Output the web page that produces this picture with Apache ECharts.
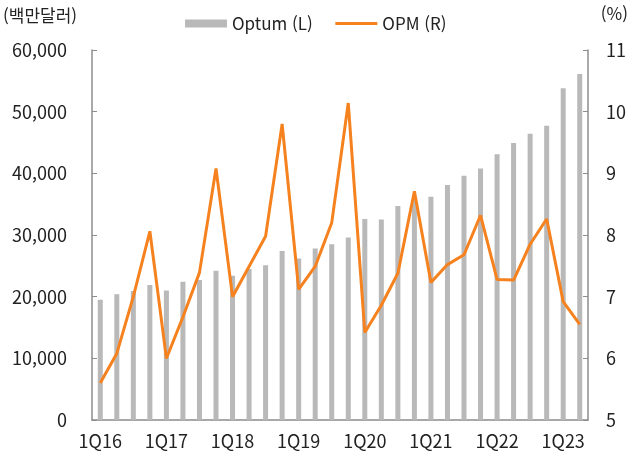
<!DOCTYPE html>
<html lang="ko">
<head>
  <meta charset="UTF-8">
  <title>Optum 매출 및 OPM</title>
  <script src="https://cdn.jsdelivr.net/npm/echarts/dist/echarts.min.js"></script>
  <style>
    body { margin: 0; background: #fff; }
    #chart { width: 632px; height: 456px; }
  </style>
</head>
<body>
<div id="chart"></div>
<script>
  // 분기 (1Q16 ~ 2Q23)
  var quarters = [];
  var years = ['16', '17', '18', '19', '20', '21', '22', '23'];
  years.forEach(function (y) {
    ['1Q', '2Q', '3Q', '4Q'].forEach(function (q) { quarters.push(q + y); });
  });
  quarters = quarters.slice(0, 30);

  // Optum 매출 (백만달러)
  var optumRevenue = [
    19500, 20400, 20900, 21900, 21000, 22400, 22700, 24200,
    23400, 24500, 25100, 27400, 26200, 27800, 28500, 29600,
    32600, 32500, 34700, 35800, 36200, 38100, 39600, 40800,
    43100, 44900, 46400, 47700, 53800, 56100
  ];
  // OPM (%)
  var opm = [
    5.60, 6.08, 7.00, 8.06, 6.00, 6.67, 7.39, 9.08,
    7.00, 7.49, 7.98, 9.80, 7.12, 7.49, 8.20, 10.14,
    6.42, 6.86, 7.38, 8.71, 7.23, 7.52, 7.68, 8.32,
    7.28, 7.27, 7.85, 8.26, 6.92, 6.55
  ];

  var leftTicks = { min: 0, max: 60000, interval: 10000 };
  var rightTicks = { min: 5, max: 11, interval: 1 };

  var font = '"Noto Sans CJK KR", "Noto Sans", sans-serif';
  var axisGray = '#8c8c8c';

  var chart = echarts.init(document.getElementById('chart'));

  var option = {
    animation: false,
    textStyle: { fontFamily: font },
    grid: { left: 92, right: 44, top: 50, bottom: 36 },
    legend: {
      top: 10,
      left: 180,
      itemGap: 22,
      itemWidth: 42,
      itemHeight: 8,
      textStyle: { fontSize: 17, color: '#222', fontFamily: font },
      data: [
        { name: 'Optum (L)', icon: 'rect' },
        { name: 'OPM (R)', itemStyle: { opacity: 0 }, lineStyle: { width: 3 } }
      ]
    },
    graphic: [
      { type: 'text', left: 3, top: 7, style: { text: '(백만달러)', fontSize: 17, fill: '#222', fontFamily: font } },
      { type: 'text', right: 4, top: 5, style: { text: '(%)', fontSize: 17, fill: '#222', fontFamily: font } }
    ],
    xAxis: {
      type: 'category',
      data: quarters,
      boundaryGap: true,
      axisLine: { lineStyle: { color: axisGray, width: 1.5 } },
      axisTick: { inside: true, length: 4, interval: 3, lineStyle: { color: axisGray } },
      axisLabel: { interval: 3, fontSize: 18, color: '#222', margin: 12, fontFamily: font }
    },
    yAxis: [
      {
        type: 'value',
        min: leftTicks.min,
        max: leftTicks.max,
        interval: leftTicks.interval,
        splitLine: { show: false },
        axisLine: { show: true, lineStyle: { color: axisGray, width: 1.5 } },
        axisTick: { show: true, inside: true, length: 5, lineStyle: { color: axisGray } },
        axisLabel: {
          fontSize: 18, color: '#222', margin: 25, fontFamily: font,
          formatter: function (v) { return v.toLocaleString('en-US'); }
        }
      },
      {
        type: 'value',
        min: rightTicks.min,
        max: rightTicks.max,
        interval: rightTicks.interval,
        position: 'right',
        splitLine: { show: false },
        axisLine: { show: true, lineStyle: { color: axisGray, width: 1.5 } },
        axisTick: { show: true, inside: true, length: 5, lineStyle: { color: axisGray } },
        axisLabel: { fontSize: 18, color: '#222', margin: 18, fontFamily: font }
      }
    ],
    series: [
      {
        name: 'Optum (L)',
        type: 'bar',
        yAxisIndex: 0,
        barWidth: 5,
        itemStyle: { color: '#b9b9b9' },
        data: optumRevenue
      },
      {
        name: 'OPM (R)',
        type: 'line',
        yAxisIndex: 1,
        symbol: 'none',
        lineStyle: { color: '#f5821f', width: 3 },
        itemStyle: { color: '#f5821f' },
        data: opm
      }
    ]
  };

  chart.setOption(option);
</script>
</body>
</html>
